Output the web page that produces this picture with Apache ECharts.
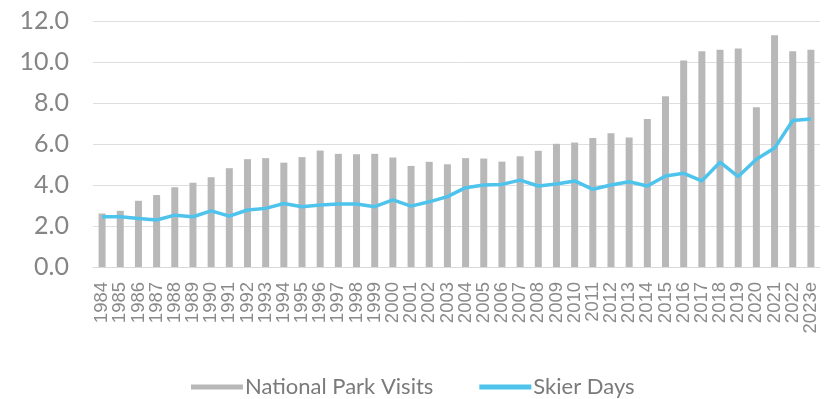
<!DOCTYPE html>
<html>
<head>
<meta charset="utf-8">
<script src="https://cdn.jsdelivr.net/npm/echarts@6/dist/echarts.min.js"></script>
<style>html,body{margin:0;padding:0;background:#fff}#c{width:829px;height:399px}</style>
</head>
<body>
<div id="c"></div>
<script>
const categories = ['1984','1985','1986','1987','1988','1989','1990','1991','1992','1993','1994','1995','1996','1997','1998','1999','2000','2001','2002','2003','2004','2005','2006','2007','2008','2009','2010','2011','2012','2013','2014','2015','2016','2017','2018','2019','2020','2021','2022','2023e'];
const parkVisits = [2.61,2.74,3.23,3.51,3.89,4.11,4.38,4.82,5.26,5.31,5.09,5.36,5.68,5.52,5.50,5.52,5.34,4.93,5.13,5.01,5.31,5.29,5.14,5.40,5.67,6.01,6.07,6.29,6.53,6.32,7.22,8.33,10.07,10.53,10.60,10.66,7.79,11.30,10.53,10.60];
const skierDays = [2.45,2.45,2.37,2.29,2.53,2.45,2.74,2.48,2.78,2.86,3.10,2.94,3.02,3.07,3.07,2.94,3.27,2.97,3.18,3.43,3.87,4.00,4.03,4.24,3.95,4.05,4.20,3.79,4.00,4.16,3.95,4.44,4.57,4.20,5.11,4.41,5.26,5.80,7.15,7.22];
const yTicks = {min:0, max:12, interval:2};

const chart = echarts.init(document.getElementById('c'));
chart.setOption({
  animation:false,
  textStyle:{fontFamily:'Lato'},
  grid:{left:93,right:9,top:21,bottom:132,containLabel:false},
  legend:{
    top:371, left:186, itemWidth:52, itemHeight:5, itemGap:46,
    textStyle:{fontFamily:'Lato',fontSize:22,color:'#7a7a7a',padding:[0,0,0,-3]},
    data:[{name:'National Park Visits',icon:'rect'},{name:'Skier Days',icon:'rect',itemStyle:{color:'#4ec3ec'}}]
  },
  xAxis:{
    type:'category', data:categories,
    axisLine:{lineStyle:{color:'#d9d9d9'}}, axisTick:{show:false},
    axisLabel:{rotate:90, interval:0, fontFamily:'Liberation Sans', fontSize:18.5, color:'#8a8a8a', margin:15}
  },
  yAxis:{
    type:'value', min:yTicks.min, max:yTicks.max, interval:yTicks.interval,
    axisLine:{show:false}, axisTick:{show:false},
    splitLine:{lineStyle:{color:'#dedede'}},
    axisLabel:{formatter:v=>v.toFixed(1), fontFamily:'Lato', fontSize:25, color:'#858585', margin:24}
  },
  series:[
    {name:'National Park Visits', type:'bar', data:parkVisits, barWidth:7, itemStyle:{color:'#b8b8b8'}},
    {name:'Skier Days', type:'line', data:skierDays, symbol:'none', lineStyle:{color:'#4ec3ec', width:3.5}, itemStyle:{color:'#4ec3ec'}}
  ]
});
</script>
</body>
</html>
